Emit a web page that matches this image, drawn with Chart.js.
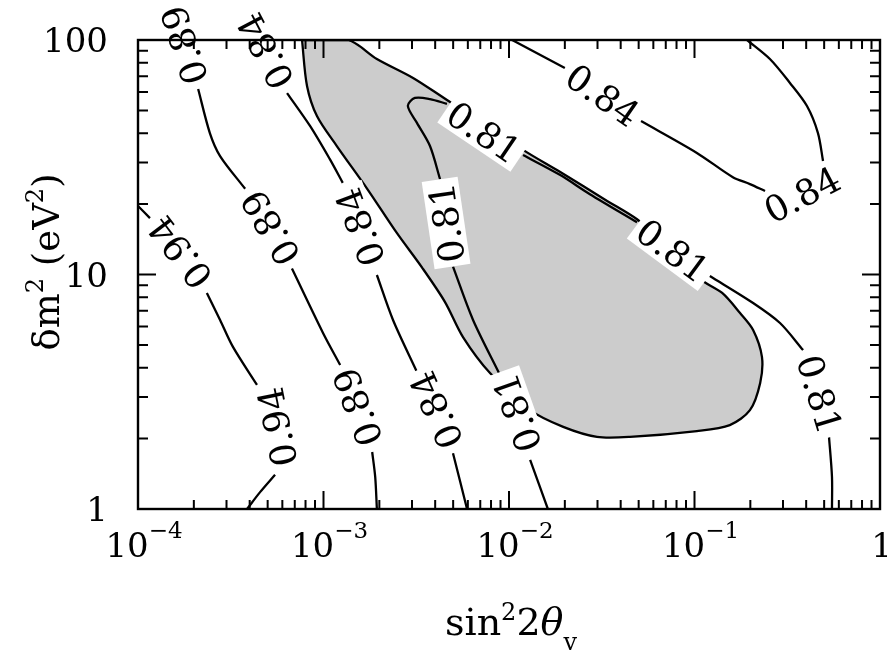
<!DOCTYPE html>
<html>
<head>
<meta charset="utf-8">
<title>δm² vs sin²2θ contours</title>
<script src="https://cdn.jsdelivr.net/npm/chart.js@4.4.1/dist/chart.umd.min.js"></script>
<style>
    html, body { margin: 0; padding: 0; background: #ffffff; }
    canvas { display: block; }
</style>
</head>
<body>
<canvas id="chart" width="887" height="656"></canvas>
<script>

// axis ticks
const xMajorTicks = [1e-4, 1e-3, 1e-2, 1e-1, 1];
const xTickExponents = ['\u22124', '\u22123', '\u22122', '\u22121', null];
const yMajorTicks = [1, 10, 100];
const yTickLabels = ['1', '10', '100'];
const minorMultipliers = [2, 3, 4, 5, 6, 7, 8, 9];

// shaded region outline, [sin^2 2theta, dm^2]
const shadedRegion = [
    [7.66e-4, 100], [8.15e-4, 63.7], [9.22e-4, 47.4], [1.18e-3, 35.3], [1.72e-3, 23.2],
    [2.49e-3, 15.0], [3.40e-3, 10.7], [4.52e-3, 7.63], [5.65e-3, 5.41], [7.90e-3, 3.80],
    [1.30e-2, 2.64], [1.96e-2, 2.24], [2.98e-2, 2.03], [4.49e-2, 2.03], [0.103, 2.15],
    [0.155, 2.28], [0.199, 2.64], [0.226, 3.45], [0.231, 4.45], [0.207, 5.80],
    [0.176, 6.85], [0.141, 8.34], [0.107, 9.57], [7.38e-2, 13.1], [4.90e-2, 17.2],
    [3.38e-2, 20.6], [1.88e-2, 27.4], [1.19e-2, 34.0], [7.90e-3, 42.6], [4.63e-3, 55.5],
    [3.04e-3, 68.9], [1.94e-3, 83.0], [1.36e-3, 100], [7.66e-4, 100]
];

// contour lines; an entry [text, x, y] is a label sitting in a gap of the line
const contour094 = [
    [3.87e-4, 1], [4.55e-4, 1.18], [5.48e-4, 1.40],
    ['0.94', 5.61e-4, 2.24],
    [4.38e-4, 3.38], [3.25e-4, 4.91], [2.77e-4, 6.40], [2.35e-4, 8.34],
    ['0.94', 1.68e-4, 12.4],
    [1.16e-4, 17.4], [1.0e-4, 19.6]
];

const contour089 = [
    [1.94e-3, 1], [1.90e-3, 1.37], [1.83e-3, 1.75],
    ['0.89', 1.52e-3, 2.72],
    [1.23e-3, 4.11], [9.94e-4, 5.63], [6.76e-4, 10.6],
    ['0.89', 5.15e-4, 15.8],
    [3.78e-4, 23.2], [2.77e-4, 32.0], [2.44e-4, 40.1], [2.11e-4, 61.8],
    ['0.89', 1.77e-4, 95.2]
];

const contour084Left = [
    [5.94e-3, 1], [4.99e-3, 1.73],
    ['0.84', 4.04e-3, 2.64],
    [3.19e-3, 3.84], [2.37e-3, 6.40], [1.94e-3, 9.95],
    ['0.84', 1.57e-3, 15.9],
    [1.27e-3, 24.6], [1.08e-3, 31.1], [8.46e-4, 43.0], [6.36e-4, 59.4],
    ['0.84', 4.84e-4, 89.8]
];

const contour081 = [
    [1.62e-2, 1], [1.30e-2, 1.62],
    ['0.81', 1.10e-2, 2.57],
    [8.94e-3, 3.73], [6.40e-3, 6.40], [4.99e-3, 10.8],
    ['0.81', 4.58e-3, 16.6],
    [4.25e-3, 25.5], [3.75e-3, 35.3], [3.19e-3, 44.3], [2.85e-3, 52.3],
    [3.11e-3, 56.6], [3.75e-3, 56.0], [4.63e-3, 53.4],
    ['0.81', 7.33e-3, 40.5],
    [1.19e-2, 32.3], [1.88e-2, 26.6], [2.73e-2, 22.0], [4.90e-2, 16.7],
    ['0.81', 7.66e-2, 12.7],
    [0.121, 9.85], [0.207, 7.56], [0.289, 6.21], [0.385, 4.76],
    ['0.81', 0.475, 3.09],
    [0.531, 2.03], [0.551, 1.37], [0.551, 1]
];

const contour084Right = [
    [1.04e-2, 100], [2.00e-2, 75.9],
    ['0.84', 3.21e-2, 58.3],
    [5.15e-2, 45.1], [0.103, 33.0], [0.161, 26.0], [0.199, 24.3], [0.240, 22.7],
    ['0.84', 0.380, 22.0],
    [0.493, 30.5], [0.463, 40.1], [0.404, 52.3], [0.327, 65.6], [0.255, 83.0], [0.192, 100]
];

const contours = [contour094, contour089, contour084Left, contour081, contour084Right];

const FONT = '"DejaVu Serif", "Liberation Serif", serif';
const LABEL_SIZE = 36;

function isLabel(entry) {
    return typeof entry[0] === 'string';
}

function toLineData(contour) {
    let out = [];
    contour.forEach(function (p) {
        if (isLabel(p)) {
            out.push({ x: p[1], y: null });
        } else {
            out.push({ x: p[0], y: p[1] });
        }
    });
    return out;
}

let datasets = [];

contours.forEach(function (contour) {
    datasets.push({
        data: toLineData(contour),
        showLine: true,
        borderColor: '#000000',
        borderWidth: 2.3,
        pointRadius: 0,
        tension: 0.3,
        fill: false,
        order: 1
    });
});

datasets.push({
    data: shadedRegion.map(function (p) { return { x: p[0], y: p[1] }; }),
    showLine: true,
    borderColor: '#000000',
    backgroundColor: '#cccccc',
    borderWidth: 2.3,
    pointRadius: 0,
    tension: 0.3,
    fill: 'shape',
    order: 2
});

function toPixel(chart, x, y) {
    return {
        x: chart.scales.x.getPixelForValue(x),
        y: chart.scales.y.getPixelForValue(y)
    };
}

// draws a row of [text, size, dy, style] pieces, centred on x
function drawRuns(ctx, runs, x, y) {
    let total = 0;
    runs.forEach(function (r) {
        ctx.font = (r[3] || '') + ' ' + r[1] + 'px ' + FONT;
        total += ctx.measureText(r[0]).width;
    });
    let cx = x - total / 2;
    ctx.textAlign = 'left';
    ctx.textBaseline = 'alphabetic';
    runs.forEach(function (r) {
        ctx.font = (r[3] || '') + ' ' + r[1] + 'px ' + FONT;
        ctx.fillText(r[0], cx, y + r[2]);
        cx += ctx.measureText(r[0]).width;
    });
}

const contourLabels = {
    id: 'contour_labels',
    afterDatasetsDraw: (chart) => {
        const ctx = chart.ctx;
        ctx.save();
        contours.forEach(function (contour) {
            for (let i = 0; i < contour.length; i++) {
                const entry = contour[i];
                if (!isLabel(entry)) continue;

                const centre = toPixel(chart, entry[1], entry[2]);
                const prev = i > 0 ? toPixel(chart, contour[i - 1][0], contour[i - 1][1]) : centre;
                const next = i < contour.length - 1 ? toPixel(chart, contour[i + 1][0], contour[i + 1][1]) : centre;
                const angle = Math.atan2(next.y - prev.y, next.x - prev.x);

                ctx.save();
                ctx.translate(centre.x, centre.y);
                ctx.rotate(angle);
                ctx.font = LABEL_SIZE + 'px ' + FONT;
                const w = ctx.measureText(entry[0]).width;
                const h = LABEL_SIZE * 0.73;
                ctx.fillStyle = '#ffffff';
                ctx.fillRect(-w / 2 - 4, -h / 2 - 5, w + 8, h + 10);
                ctx.fillStyle = '#000000';
                ctx.textAlign = 'center';
                ctx.textBaseline = 'alphabetic';
                ctx.fillText(entry[0], 0, h / 2);
                ctx.restore();
            }
        });
        ctx.restore();
    }
};

const frameAndAxes = {
    id: 'frame_and_axes',
    afterDraw: (chart) => {
        const ctx = chart.ctx;
        const area = chart.chartArea;
        const xs = chart.scales.x;
        const ys = chart.scales.y;

        ctx.save();
        ctx.strokeStyle = '#000000';
        ctx.lineWidth = 2;

        ctx.beginPath();
        xMajorTicks.forEach(function (v, i) {
            const x = xs.getPixelForValue(v);
            ctx.moveTo(x, area.bottom); ctx.lineTo(x, area.bottom - 18);
            ctx.moveTo(x, area.top); ctx.lineTo(x, area.top + 18);
            if (i < xMajorTicks.length - 1) {
                minorMultipliers.forEach(function (m) {
                    const mx = xs.getPixelForValue(v * m);
                    ctx.moveTo(mx, area.bottom); ctx.lineTo(mx, area.bottom - 9);
                    ctx.moveTo(mx, area.top); ctx.lineTo(mx, area.top + 9);
                });
            }
        });
        yMajorTicks.forEach(function (v, i) {
            const y = ys.getPixelForValue(v);
            ctx.moveTo(area.left, y); ctx.lineTo(area.left + 18, y);
            ctx.moveTo(area.right, y); ctx.lineTo(area.right - 18, y);
            if (i < yMajorTicks.length - 1) {
                minorMultipliers.forEach(function (m) {
                    const my = ys.getPixelForValue(v * m);
                    ctx.moveTo(area.left, my); ctx.lineTo(area.left + 10, my);
                    ctx.moveTo(area.right, my); ctx.lineTo(area.right - 10, my);
                });
            }
        });
        ctx.stroke();

        ctx.lineWidth = 2.4;
        ctx.strokeRect(area.left, area.top, area.right - area.left, area.bottom - area.top);

        ctx.fillStyle = '#000000';

        // x tick labels: 10 with exponent
        xMajorTicks.forEach(function (v, i) {
            const x = xs.getPixelForValue(v);
            if (xTickExponents[i] === null) {
                drawRuns(ctx, [['1', 34, 0]], x + 2, 557);
            } else {
                drawRuns(ctx, [['10', 34, 0], [xTickExponents[i], 23, -19]], x + 6, 557);
            }
        });

        // y tick labels
        ctx.font = '34px ' + FONT;
        ctx.textAlign = 'right';
        ctx.textBaseline = 'alphabetic';
        yMajorTicks.forEach(function (v, i) {
            ctx.fillText(yTickLabels[i], 108, ys.getPixelForValue(v) + 12);
        });

        // axis titles
        drawRuns(ctx, [
            ['sin', 38, 0], ['2', 24, -15], ['2', 38, 0], ['\u03b8', 38, 0, 'italic'], ['v', 24, 15]
        ], 511, 635);

        ctx.save();
        ctx.translate(59, 262);
        ctx.rotate(-Math.PI / 2);
        drawRuns(ctx, [
            ['\u03b4m', 37, 0], ['2', 24, -16], [' (eV', 37, 0], ['2', 24, -16], [')', 37, 0]
        ], 0, 0);
        ctx.restore();

        ctx.restore();
    }
};

const config = {
    type: 'scatter',
    data: { datasets: datasets },
    options: {
        responsive: false,
        animation: false,
        devicePixelRatio: 1,
        layout: {
            padding: { left: 138, top: 40, right: 7, bottom: 147 }
        },
        plugins: {
            legend: { display: false },
            tooltip: { enabled: false }
        },
        scales: {
            x: { type: 'logarithmic', min: 1e-4, max: 1, display: false },
            y: { type: 'logarithmic', min: 1, max: 100, display: false }
        }
    },
    plugins: [contourLabels, frameAndAxes]
};

let chart = new Chart(
    document.getElementById('chart'),
    config
);

</script>
</body>
</html>
